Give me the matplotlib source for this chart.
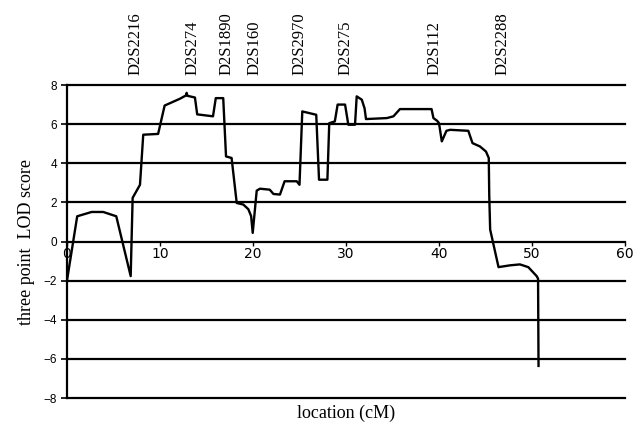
import matplotlib.pyplot as plt
import numpy as np

# three point LOD score along chromosome 2
location = [0, 1.1, 2.65, 3.9, 5.3, 6.85, 7.06, 7.85, 8.2, 9.8, 10.5, 12.15,
            12.8, 12.87, 12.95, 13.76, 14.0, 15.7, 16.0, 16.8, 17.1, 17.7,
            18.25, 18.96, 19.5, 19.8, 19.97, 20.4, 20.75, 21.8, 22.2, 22.9,
            23.4, 24.7, 25.0, 25.3, 26.8, 27.1, 28.0, 28.2, 28.8, 29.1, 29.9,
            30.25, 30.97, 31.15, 31.7, 32.0, 32.15, 34.4, 35.1, 35.8, 39.2,
            39.4, 39.8, 40.0, 40.3, 40.8, 41.2, 43.15, 43.6, 44.4, 45.05,
            45.35, 45.4, 45.5, 46.4, 47.6, 48.7, 49.6, 50.5, 50.65, 50.7]
lod = [-2.0, 1.29, 1.51, 1.51, 1.29, -1.77, 2.23, 2.9, 5.46, 5.5, 6.95, 7.3,
       7.47, 7.6, 7.45, 7.36, 6.5, 6.4, 7.33, 7.33, 4.35, 4.27,
       1.97, 1.89, 1.65, 1.3, 0.44, 2.6, 2.7, 2.65, 2.43, 2.4,
       3.08, 3.08, 2.9, 6.65, 6.48, 3.16, 3.16, 6.05, 6.14, 7.0, 7.0,
       5.97, 5.97, 7.42, 7.25, 6.8, 6.26, 6.31, 6.4, 6.77, 6.77,
       6.31, 6.17, 6.05, 5.12, 5.66, 5.71, 5.66, 5.03, 4.86, 4.6,
       4.27, 2.4, 0.61, -1.31, -1.22, -1.17, -1.31, -1.77, -1.9, -6.36]

markers = ['D2S2216', 'D2S274', 'D2S1890', 'D2S160', 'D2S2970', 'D2S275',
           'D2S112', 'D2S2288']
marker_pos = [7.42, 13.5, 17.1, 20.2, 25.05, 29.9, 39.5, 46.85]

serif = 'Liberation Serif'
sans = 'Liberation Sans'

fig = plt.figure(figsize=(6.33, 4.23), dpi=100)
ax = fig.add_axes([0.1058, 0.0591, 0.8816, 0.7399])

ax.plot(location, lod, color='black', lw=1.7, zorder=3)

ax.set_xlim(0, 60)
ax.set_ylim(-8, 8)
ax.set_xticks(np.arange(0, 61, 10))
ax.set_yticks(np.arange(-8, 9, 2))
for t in ax.get_xticklabels() + ax.get_yticklabels():
    t.set_fontfamily(sans)
    t.set_fontsize(8.5)

ax.yaxis.grid(True, color='black', lw=1.6)
for gl in ax.get_ygridlines():
    gl.set_clip_on(False)
ax.set_axisbelow(True)

ax.spines['top'].set_visible(False)
ax.spines['right'].set_visible(False)
ax.spines['bottom'].set_position(('data', 0))
ax.spines['bottom'].set_visible(False)
ax.spines['left'].set_linewidth(1.6)
ax.tick_params(axis='x', direction='out', length=3, width=1, pad=1)
ax.tick_params(axis='y', direction='out', length=4, width=1.2, pad=3)

ax.set_ylabel('three point  LOD score', fontfamily=serif, fontsize=13, labelpad=6)
ax.text(30, -8.35, 'location (cM)', fontfamily=serif, fontsize=13,
        ha='center', va='top')

for name, pos in zip(markers, marker_pos):
    ax.text(pos, 8.5, name, rotation=90, ha='center', va='bottom',
            fontfamily=serif, fontsize=12, clip_on=False)

fig.savefig('out.png', dpi=100)
